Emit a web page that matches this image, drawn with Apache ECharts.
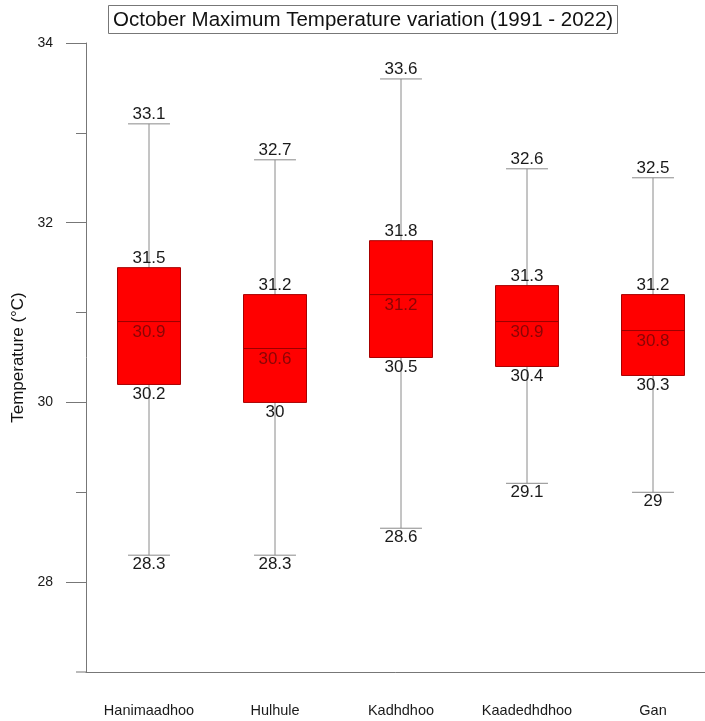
<!DOCTYPE html>
<html>
<head>
<meta charset="utf-8">
<script src="https://cdn.jsdelivr.net/npm/echarts@6/dist/echarts.min.js"></script>
<style>
  html, body { margin: 0; padding: 0; background: #fff; }
  #chart { width: 705px; height: 721px; }
</style>
</head>
<body>
<div id="chart"></div>
<script>
// ---- Data ----
const categories = ['Hanimaadhoo', 'Hulhule', 'Kadhdhoo', 'Kaadedhdhoo', 'Gan'];
const minValues    = [28.3, 28.3, 28.6, 29.1, 29.0];
const q1Values     = [30.2, 30.0, 30.5, 30.4, 30.3];
const medianValues = [30.9, 30.6, 31.2, 30.9, 30.8];
const q3Values     = [31.5, 31.2, 31.8, 31.3, 31.2];
const maxValues    = [33.1, 32.7, 33.6, 32.6, 32.5];
const majorTicks = [28, 30, 32, 34];
const minorTicks = [29, 31, 33];

const FONT = '"Liberation Sans", Arial, sans-serif';
const fmt = v => String(Number(v.toFixed(1)));

const seriesData = categories.map((c, i) => [i, minValues[i], q1Values[i], medianValues[i], q3Values[i], maxValues[i]]);

function renderItem(params, api) {
  const idx = api.value(0);
  const vals = [api.value(1), api.value(2), api.value(3), api.value(4), api.value(5)];
  const band = api.size([1, 0])[0];
  const boxW = band * 0.5;
  const capW = band * 0.333;
  const pMin = api.coord([idx, vals[0]]);
  const pQ1 = api.coord([idx, vals[1]]);
  const pMed = api.coord([idx, vals[2]]);
  const pQ3 = api.coord([idx, vals[3]]);
  const pMax = api.coord([idx, vals[4]]);
  const x = pMed[0];
  const whiskerStyle = { stroke: '#8a8a8a', lineWidth: 1 };
  const txt = (val, y, va, color) => ({
    type: 'text',
    style: {
      text: fmt(val), x: x, y: y, align: 'center', verticalAlign: va,
      font: '17px ' + FONT, fill: color || '#1a1a1a'
    }
  });
  return {
    type: 'group',
    children: [
      { type: 'line', shape: { x1: x, y1: pMin[1], x2: x, y2: pMax[1] }, style: whiskerStyle },
      { type: 'line', shape: { x1: x - capW / 2, y1: pMax[1], x2: x + capW / 2, y2: pMax[1] }, style: whiskerStyle },
      { type: 'line', shape: { x1: x - capW / 2, y1: pMin[1], x2: x + capW / 2, y2: pMin[1] }, style: whiskerStyle },
      { type: 'rect', shape: { x: x - boxW / 2, y: pQ3[1], width: boxW, height: pQ1[1] - pQ3[1] },
        style: { fill: '#ff0000', stroke: '#a80000', lineWidth: 1 } },
      { type: 'line', shape: { x1: x - boxW / 2, y1: pMed[1], x2: x + boxW / 2, y2: pMed[1] },
        style: { stroke: '#990000', lineWidth: 1 } },
      txt(vals[4], pMax[1] - 1, 'bottom'),
      txt(vals[3], pQ3[1] - 1, 'bottom'),
      txt(vals[2], pMed[1] + 2, 'top', '#8a0505'),
      txt(vals[1], pQ1[1] + 1, 'top'),
      txt(vals[0], pMin[1] + 1, 'top')
    ]
  };
}

const chart = echarts.init(document.getElementById('chart'), null, { renderer: 'canvas' });
chart.setOption({
  animation: false,
  backgroundColor: '#ffffff',
  title: {
    text: 'October Maximum Temperature variation (1991 - 2022)',
    left: 108, top: 5,
    padding: [4, 5, 3, 5],
    borderColor: '#777', borderWidth: 1,
    textStyle: { fontFamily: FONT, fontSize: 20.5, fontWeight: 'normal', color: '#111', lineHeight: 22 }
  },
  grid: { left: 86, width: 630, top: 43, bottom: 49, outerBoundsMode: 'none' },
  xAxis: {
    type: 'category',
    data: categories,
    boundaryGap: true,
    axisLine: { lineStyle: { color: '#777', width: 1 } },
    axisTick: { alignWithLabel: true, length: 18, lineStyle: { color: '#777' } },
    axisLabel: { margin: 31, fontFamily: FONT, fontSize: 14.5, color: '#1a1a1a' },
    splitLine: { show: false }
  },
  yAxis: [
    {
      type: 'value', min: 27, max: 34, interval: 1,
      name: 'Temperature (°C)', nameLocation: 'middle', nameGap: 46,
      nameTextStyle: { fontFamily: FONT, fontSize: 17, color: '#111' },
      axisLine: { show: true, lineStyle: { color: '#777', width: 1 } },
      axisTick: { show: true, length: 20, customValues: majorTicks, lineStyle: { color: '#777' } },
      axisLabel: { customValues: majorTicks, margin: 33, fontFamily: FONT, fontSize: 14, color: '#1a1a1a' },
      splitLine: { show: false }
    },
    {
      type: 'value', min: 27, max: 34, interval: 1, position: 'left',
      axisLine: { show: false },
      axisTick: { show: true, length: 10, customValues: minorTicks, lineStyle: { color: '#777' } },
      axisLabel: { show: false },
      splitLine: { show: false }
    }
  ],
  graphic: [
    { type: 'line', shape: { x1: 76, y1: 672, x2: 86, y2: 672 }, style: { stroke: '#777', lineWidth: 1 } }
  ],
  series: [{
    type: 'custom',
    renderItem: renderItem,
    encode: { x: 0, y: [1, 2, 3, 4, 5] },
    data: seriesData,
    clip: false
  }]
});
</script>
</body>
</html>
